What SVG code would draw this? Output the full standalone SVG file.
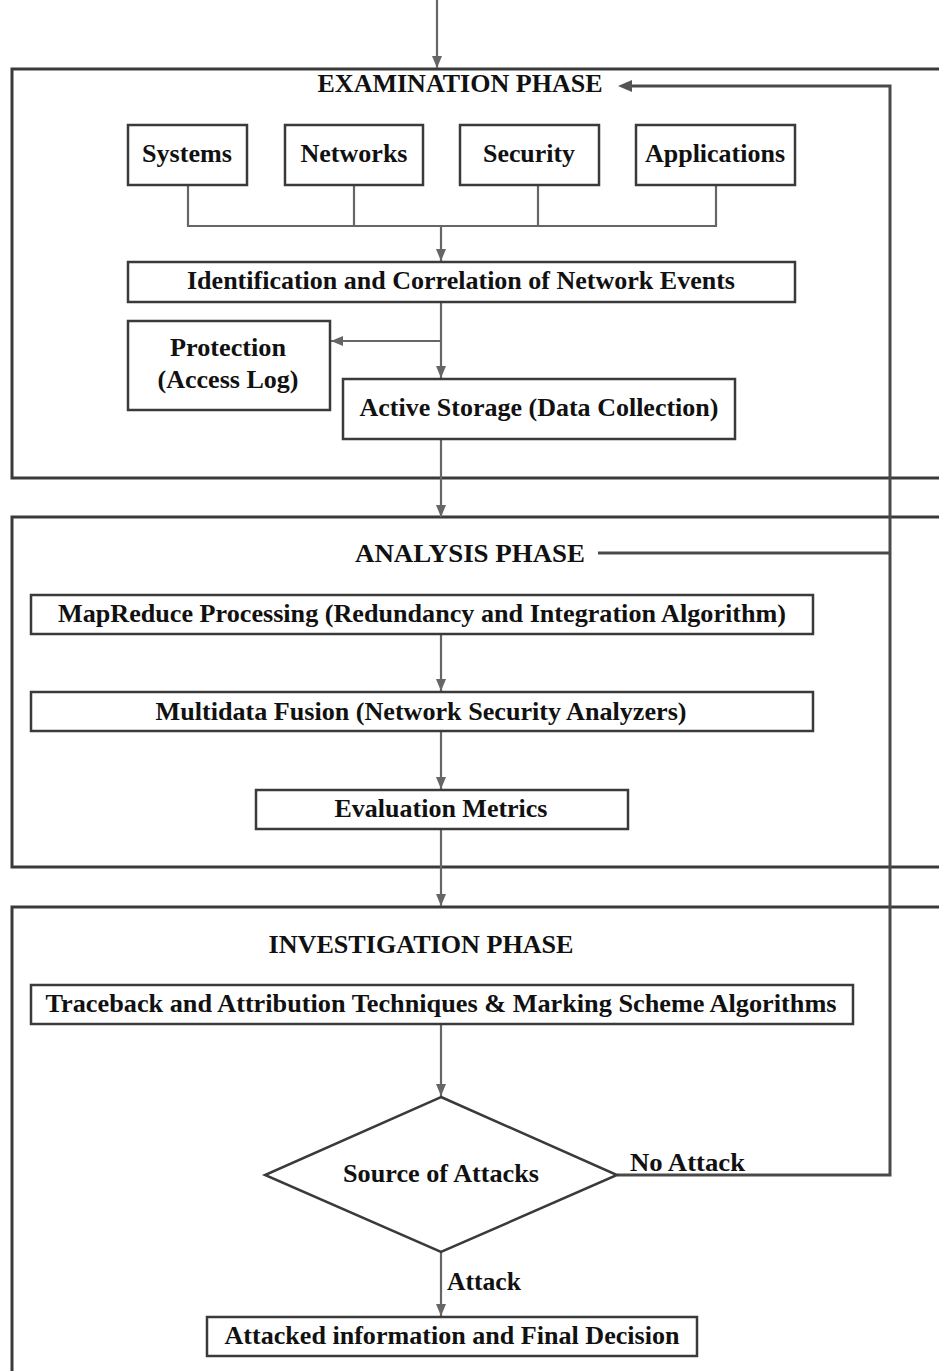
<svg xmlns="http://www.w3.org/2000/svg" width="939" height="1371" viewBox="0 0 939 1371">
  <style>
    .frame { fill: none; stroke: #3a3a3a; stroke-width: 3; }
    .loop { fill: none; stroke: #4a4a4a; stroke-width: 3; }
    .box { fill: #ffffff; stroke: #3a3a3a; stroke-width: 2.5; }
    .conn { fill: none; stroke: #666666; stroke-width: 2.2; }
    .lbl { font-family: "Liberation Serif", "Times New Roman", serif; font-weight: bold; font-size: 25px; fill: #111111; text-anchor: middle; }
    .edge { font-family: "Liberation Serif", "Times New Roman", serif; font-weight: bold; font-size: 25px; fill: #111111; }
  </style>
  <defs>
    <marker id="arrow" viewBox="0 0 12 10" refX="12" refY="5" markerWidth="12" markerHeight="10" markerUnits="userSpaceOnUse" orient="auto">
      <path d="M0,0 L12,5 L0,10 z" fill="#666666"/>
    </marker>
  </defs>
  <rect width="939" height="1371" fill="#ffffff"/>

  <!-- phase frames (open on the right) -->
  <g id="examination-phase">
    <path class="frame" d="M939,69 H12 V478 H939"/>
    <text class="lbl" x="460" y="92" textLength="285" lengthAdjust="spacingAndGlyphs">EXAMINATION PHASE</text>
  </g>
  <g id="analysis-phase">
    <path class="frame" d="M939,517 H12 V867 H939"/>
    <text class="lbl" x="470" y="562" textLength="230" lengthAdjust="spacingAndGlyphs">ANALYSIS  PHASE</text>
  </g>
  <g id="investigation-phase">
    <path class="frame" d="M939,907 H12 V1371"/>
    <text class="lbl" x="421" y="953" textLength="305" lengthAdjust="spacingAndGlyphs">INVESTIGATION PHASE</text>
  </g>

  <!-- connectors -->
  <g id="connectors">
    <path class="conn" d="M437,0 V68" marker-end="url(#arrow)"/>
    <path class="conn" d="M188,185 V226 H716 V185 M354,185 V226 M538,185 V226"/>
    <path class="conn" d="M441,226 V261" marker-end="url(#arrow)"/>
    <path class="conn" d="M441,302 V378" marker-end="url(#arrow)"/>
    <path class="conn" d="M441,341 H331" marker-end="url(#arrow)"/>
    <path class="conn" d="M441,439 V517" marker-end="url(#arrow)"/>
    <path class="conn" d="M441,634 V691" marker-end="url(#arrow)"/>
    <path class="conn" d="M441,731 V789" marker-end="url(#arrow)"/>
    <path class="conn" d="M441,829 V906" marker-end="url(#arrow)"/>
    <path class="conn" d="M441,1024 V1096" marker-end="url(#arrow)"/>
    <path class="conn" d="M441,1252 V1316" marker-end="url(#arrow)"/>
    <!-- no-attack feedback loop back to the examination phase -->
    <path class="loop" d="M617,1175 H890 V86 H628"/>
    <path d="M618,86 L632,80 L632,92 z" fill="#555555"/>
    <path class="loop" d="M598,553 H890"/>
    <text class="edge" x="630" y="1171" textLength="115" lengthAdjust="spacingAndGlyphs">No Attack</text>
    <text class="edge" x="447" y="1290" textLength="74" lengthAdjust="spacingAndGlyphs">Attack</text>
  </g>

  <!-- examination nodes -->
  <g id="systems">
    <rect class="box" x="128" y="125" width="119" height="60"/>
    <text class="lbl" x="187" y="162" textLength="90" lengthAdjust="spacingAndGlyphs">Systems</text>
  </g>
  <g id="networks">
    <rect class="box" x="285" y="125" width="138" height="60"/>
    <text class="lbl" x="354" y="162" textLength="107" lengthAdjust="spacingAndGlyphs">Networks</text>
  </g>
  <g id="security">
    <rect class="box" x="460" y="125" width="139" height="60"/>
    <text class="lbl" x="529" y="162" textLength="92" lengthAdjust="spacingAndGlyphs">Security</text>
  </g>
  <g id="applications">
    <rect class="box" x="636" y="125" width="159" height="60"/>
    <text class="lbl" x="715" y="162" textLength="140" lengthAdjust="spacingAndGlyphs">Applications</text>
  </g>
  <g id="identification">
    <rect class="box" x="128" y="262" width="667" height="40"/>
    <text class="lbl" x="461" y="289" textLength="548" lengthAdjust="spacingAndGlyphs">Identification and Correlation of Network Events</text>
  </g>
  <g id="protection">
    <rect class="box" x="128" y="321" width="202" height="89"/>
    <text class="lbl" x="228" y="356" textLength="116" lengthAdjust="spacingAndGlyphs">Protection</text>
    <text class="lbl" x="228" y="388" textLength="141" lengthAdjust="spacingAndGlyphs">(Access Log)</text>
  </g>
  <g id="active-storage">
    <rect class="box" x="343" y="379" width="392" height="60"/>
    <text class="lbl" x="539" y="416" textLength="359" lengthAdjust="spacingAndGlyphs">Active Storage (Data Collection)</text>
  </g>

  <!-- analysis nodes -->
  <g id="mapreduce">
    <rect class="box" x="31" y="595" width="782" height="39"/>
    <text class="lbl" x="422" y="622" textLength="728" lengthAdjust="spacingAndGlyphs">MapReduce Processing (Redundancy and Integration Algorithm)</text>
  </g>
  <g id="multidata-fusion">
    <rect class="box" x="31" y="692" width="782" height="39"/>
    <text class="lbl" x="421" y="720" textLength="531" lengthAdjust="spacingAndGlyphs">Multidata Fusion (Network Security Analyzers)</text>
  </g>
  <g id="evaluation-metrics">
    <rect class="box" x="256" y="790" width="372" height="39"/>
    <text class="lbl" x="441" y="817" textLength="213" lengthAdjust="spacingAndGlyphs">Evaluation Metrics</text>
  </g>

  <!-- investigation nodes -->
  <g id="traceback">
    <rect class="box" x="31" y="985" width="822" height="39"/>
    <text class="lbl" x="441" y="1012" textLength="791" lengthAdjust="spacingAndGlyphs">Traceback and Attribution Techniques &amp; Marking Scheme Algorithms</text>
  </g>
  <g id="source-of-attacks">
    <polygon class="box" points="441,1097 617,1175 441,1252 265,1175"/>
    <text class="lbl" x="441" y="1182" textLength="196" lengthAdjust="spacingAndGlyphs">Source of Attacks</text>
  </g>
  <g id="final-decision">
    <rect class="box" x="207" y="1317" width="490" height="39"/>
    <text class="lbl" x="452" y="1344" textLength="455" lengthAdjust="spacingAndGlyphs">Attacked information and Final Decision</text>
  </g>
</svg>
